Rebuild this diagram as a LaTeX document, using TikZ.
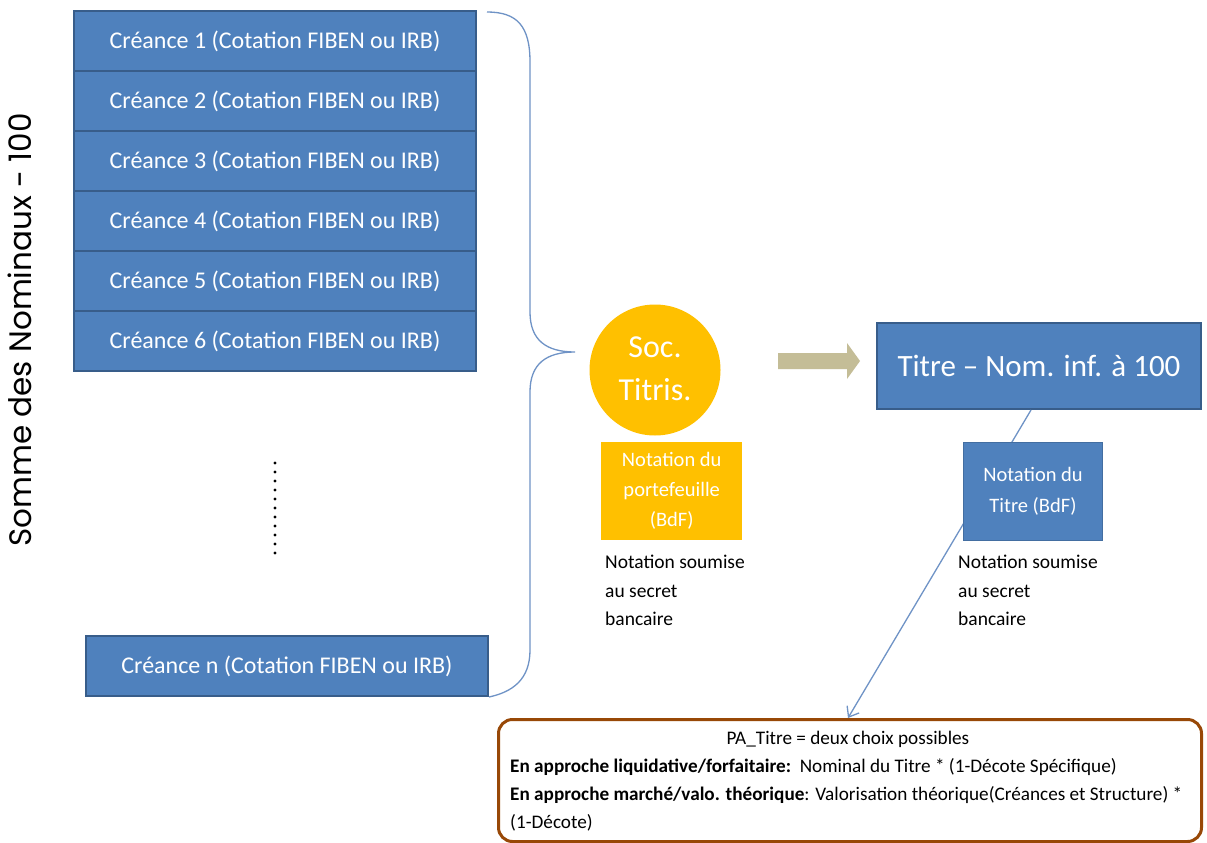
\documentclass[tikz,border=0pt]{standalone}
\usepackage{fontspec}
\setmainfont{Carlito}
\newfontfamily\gothic{Poppins}
\usetikzlibrary{arrows.meta,calc}
\definecolor{bfill}{HTML}{4F81BD}
\definecolor{bdraw}{HTML}{385D8A}
\definecolor{yfill}{HTML}{FFC000}
\definecolor{khaki}{HTML}{C4BD97}
\definecolor{lblue}{HTML}{6F93C6}
\definecolor{brownc}{HTML}{984807}
\begin{document}
\begin{tikzpicture}[x=1pt,y=-1pt,
  cbox/.style={draw=bdraw,fill=bfill,line width=2pt,text=white,inner sep=0pt,
    minimum width=402,minimum height=60,anchor=north west,
    font=\fontsize{24}{28}\selectfont},
  ybox/.style={fill=yfill,text=white,inner sep=0pt,align=center,anchor=north west,
    minimum width=141,minimum height=98,font=\fontsize{20.5}{30}\selectfont},
  nbox/.style={fill=bfill,draw=bfill!85!black,line width=1pt,text=white,inner sep=0pt,align=center,anchor=north west,
    minimum width=139,minimum height=98,font=\fontsize{20.5}{31}\selectfont},
  note/.style={anchor=north west,align=left,inner sep=0pt,font=\fontsize{19.5}{28.5}\selectfont},
  patext/.style={inner sep=0pt,font=\fontsize{19.2}{28}\selectfont},
  thinblue/.style={draw=lblue,line width=1.3pt}]
\useasboundingbox (0,0) rectangle (1207,843);
\fill[white] (0,0) rectangle (1207,843);
% creances
\foreach \i in {1,...,6}{
  \node[cbox] (c\i) at (73,{10+60*(\i-1)}) {Créance \i\ (Cotation FIBEN ou IRB)};
}
\node[cbox] (cn) at (85,635) {Créance n (Cotation FIBEN ou IRB)};
% dots
\node[inner sep=0pt] (dots) at (275,508) {};
\foreach \k in {0,...,10}{\fill (275,{463+9*\k}) circle (1.6);}
% vertical label
\node[rotate=90,inner sep=0pt,font=\gothic\fontsize{31}{36}\selectfont] (somme) at (20,330) {Somme des Nominaux - 100};
% brace
\coordinate (btip) at (575,352);
\draw[thinblue] (c1.north east) ++(10,2) .. controls (517,12) and (530,26) .. (530,62) -- (530,312)
  .. controls (530,340) and (546,352) .. (btip)
  .. controls (546,352) and (530,364) .. (530,392) -- (530,650)
  .. controls (530,680) and (512,692) .. (cn.south east);
% circle
\node[circle,fill=yfill,text=white,minimum size=131,inner sep=0pt,align=center,
  font=\fontsize{32}{43}\selectfont] (soc) at (655,370) {\raisebox{7pt}{\begin{tabular}{@{}c@{}}Soc.\\[0pt]Titris.\end{tabular}}};
\node[ybox] (ynot) at (601,442) {Notation du\\portefeuille\\(BdF)};
\node[note] (ysec) at (605,555) {Notation soumise\\au secret\\bancaire};
% fat arrow
\coordinate (fa) at (778,361);
\fill[khaki] (fa) ++(0,-8) -- ++(69,0) -- ++(0,-10) -- (860,361) -- (847,379) -- ++(0,-10) -- ++(-69,0) -- cycle;
% titre
\node[draw=bdraw,fill=bfill,line width=2pt,text=white,minimum width=324,minimum height=86,
  anchor=north west,inner sep=0pt,font=\fontsize{31}{38}\selectfont] (titre) at (876,322) {Titre -- Nom. inf. à 100};
% PA box
\node[draw=brownc,line width=3pt,rounded corners=14pt,minimum width=703,minimum height=122,
  anchor=north west,inner sep=0pt] (pa) at (497,718) {};
\node[patext] (pa1) at (848,739) {PA\_Titre = deux choix possibles};
\node[patext,anchor=west] (pa2) at (510,767) {\textbf{En approche liquidative/forfaitaire:}\ \ Nominal du Titre * (1-Décote Spécifique)};
\node[patext,anchor=west] (pa3) at (510,795) {\textbf{En approche marché/valo. théorique}: Valorisation théorique(Créances et Structure) *};
\node[patext,anchor=west] (pa4) at (510,823) {(1-Décote)};
% connector
\coordinate (lstart) at ([xshift=-8]titre.south);
\coordinate (lend) at (pa.north -| 848,0);
\draw[thinblue,-{Straight Barb[length=9pt,width=14pt]}] (lstart) -- (lend);
\node[nbox] (tnot) at (963,442) {Notation du\\Titre (BdF)};
\node[note] (tsec) at (958,555) {Notation soumise\\au secret\\bancaire};
\end{tikzpicture}
\end{document}
